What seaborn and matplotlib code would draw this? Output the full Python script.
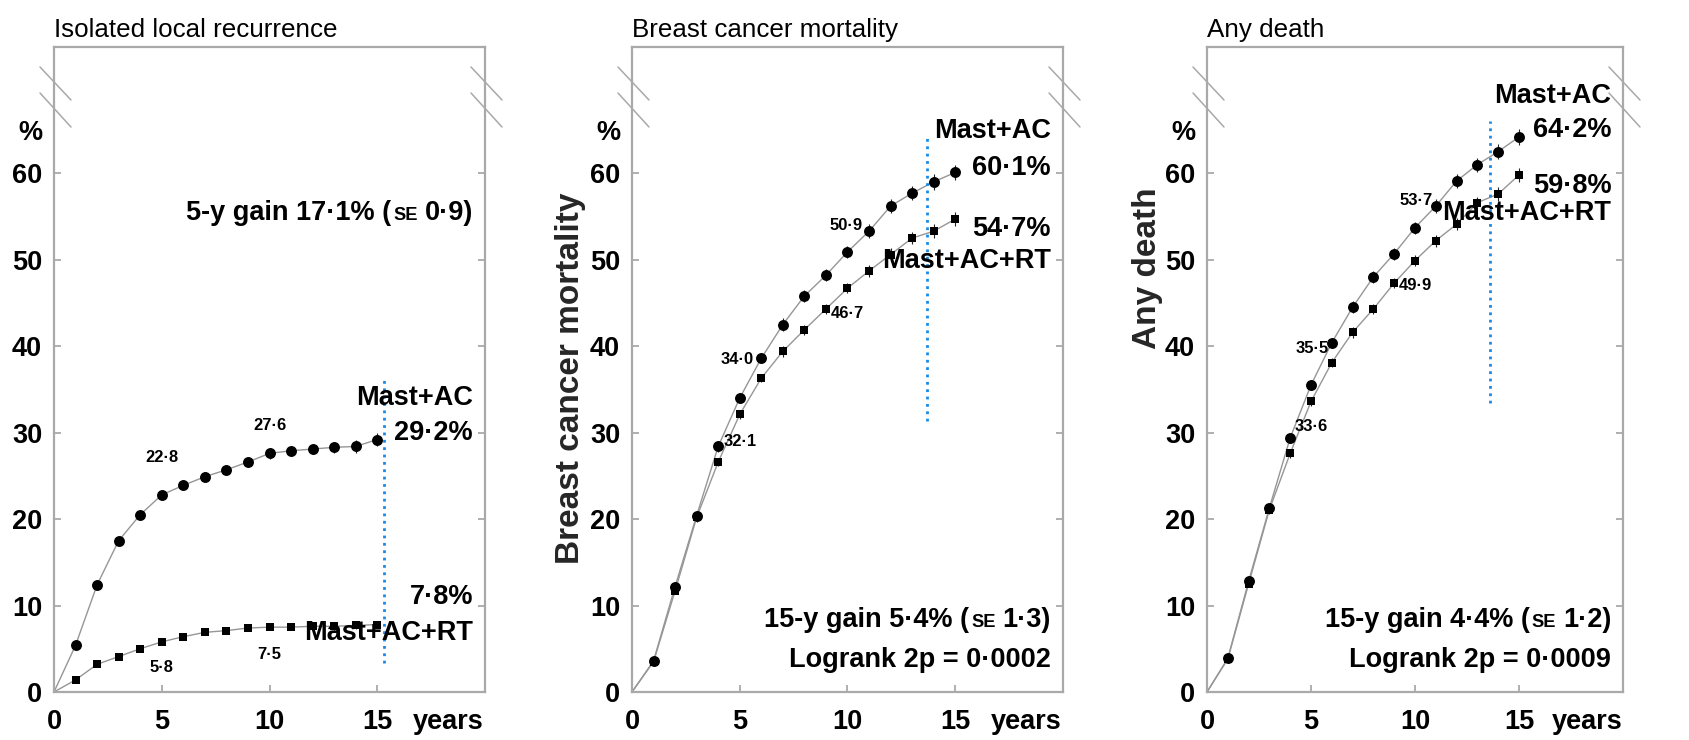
import matplotlib
matplotlib.use("Agg")
import matplotlib.pyplot as plt
import pandas as pd
import seaborn as sns
from matplotlib import font_manager as fm
from matplotlib.transforms import offset_copy

# ---------------------------------------------------------------- data
years = list(range(0, 16))

local_mast_ac = [0, 5.4, 12.4, 17.5, 20.5, 22.8, 23.9, 24.9, 25.7, 26.6, 27.6, 27.9, 28.1, 28.3, 28.4, 29.2]
local_mast_ac_rt = [0, 1.4, 3.2, 4.1, 5.0, 5.8, 6.4, 6.9, 7.1, 7.4, 7.5, 7.5, 7.6, 7.6, 7.7, 7.8]

bcm_mast_ac = [0, 3.6, 12.2, 20.4, 28.4, 34.0, 38.6, 42.5, 45.8, 48.2, 50.9, 53.3, 56.2, 57.7, 59.0, 60.1]
bcm_mast_ac_rt = [0, 3.5, 11.7, 20.2, 26.6, 32.1, 36.3, 39.4, 41.9, 44.3, 46.7, 48.7, 50.6, 52.5, 53.3, 54.7]

death_mast_ac = [0, 3.9, 12.8, 21.3, 29.4, 35.5, 40.4, 44.5, 48.0, 50.7, 53.7, 56.2, 59.1, 61.0, 62.5, 64.2]
death_mast_ac_rt = [0, 3.8, 12.5, 21.1, 27.6, 33.6, 38.1, 41.6, 44.3, 47.3, 49.9, 52.2, 54.1, 56.6, 57.6, 59.8]

# standard errors, years 1-15
local_se_ac = [0.2, 0.3, 0.4, 0.4, 0.4, 0.4, 0.5, 0.5, 0.5, 0.6, 0.6, 0.6, 0.6, 0.7, 0.8]
local_se_rt = [0.1, 0.2, 0.2, 0.2, 0.3, 0.3, 0.3, 0.3, 0.3, 0.3, 0.3, 0.3, 0.4, 0.4, 0.4]
bcm_se_ac = [0.3, 0.4, 0.5, 0.6, 0.6, 0.6, 0.7, 0.7, 0.7, 0.7, 0.8, 0.8, 0.8, 0.9, 0.9]
bcm_se_rt = [0.3, 0.4, 0.5, 0.5, 0.5, 0.5, 0.6, 0.6, 0.6, 0.6, 0.7, 0.7, 0.7, 0.8, 0.8]
death_se_ac = [0.3, 0.4, 0.5, 0.6, 0.6, 0.6, 0.7, 0.7, 0.7, 0.7, 0.8, 0.8, 0.8, 0.9, 0.9]
death_se_rt = [0.3, 0.4, 0.5, 0.5, 0.5, 0.5, 0.6, 0.6, 0.6, 0.6, 0.7, 0.7, 0.7, 0.8, 0.8]

titles = ["Isolated local recurrence", "Breast cancer mortality", "Any death"]
ylabels = [None, "Breast cancer mortality", "Any death"]
arm_names = ["Mast+AC", "Mast+AC+RT"]
x_ticks = [0, 5, 10, 15]
y_ticks = [0, 10, 20, 30, 40, 50, 60]
gain_texts = [("5-y gain 17·1% (", "SE", "0·9)"),
              ("15-y gain 5·4% (", "SE", "1·3)"),
              ("15-y gain 4·4% (", "SE", "1·2)")]
logrank_texts = [None, "Logrank 2p = 0·0002", "Logrank 2p = 0·0009"]

# ---------------------------------------------------------------- style
sns.set_theme(style="white")
names = {f.name for f in fm.fontManager.ttflist}
if "Liberation Sans Narrow" in names:
    NARROW, K = "Liberation Sans Narrow", 1.0
else:
    NARROW, K = "Liberation Sans", 0.85
WIDE = "Liberation Sans" if "Liberation Sans" in names else "DejaVu Sans"
plt.rcParams["font.family"] = [NARROW, "DejaVu Sans"]
plt.rcParams["font.weight"] = "bold"
plt.rcParams["text.color"] = "black"

SPINE = "#a9a9a9"
LINE = "#969696"
BLUE = "#1a8ae6"
TICK_FS = 23 * K
BIG_FS = 23 * K
SMALL_FS = 14 * K
SC_FS = 15.5 * K

fig = plt.figure(figsize=(16.89, 7.40), dpi=100)
renderer = fig.canvas.get_renderer()
FW, FH = 1689.0, 740.0

panel_px = [(54, 431), (632, 431), (1207, 416)]
AX_BOTTOM, AX_TOP = 692, 47

panels = [
    dict(ac=local_mast_ac, rt=local_mast_ac_rt, se_ac=local_se_ac, se_rt=local_se_rt,
         vline=(15.3, 3.4, 36.3),
         end_y=(34.0, 29.9, 11.0, 6.8),
         labels_ac=[(5, 5.0, 27.1), (10, 10.0, 30.8)],
         labels_rt=[(5, 5.0, 2.8), (10, 10.0, 4.3)],
         gain_y=54.6, logrank_y=None),
    dict(ac=bcm_mast_ac, rt=bcm_mast_ac_rt, se_ac=bcm_se_ac, se_rt=bcm_se_rt,
         vline=(13.7, 31.4, 64.4),
         end_y=(64.9, 60.6, 53.6, 49.8),
         labels_ac=[(5, 4.9, 38.4), (10, 9.95, 54.0)],
         labels_rt=[(5, 5.0, 29.0), (10, 10.0, 43.8)],
         gain_y=7.5, logrank_y=2.9),
    dict(ac=death_mast_ac, rt=death_mast_ac_rt, se_ac=death_se_ac, se_rt=death_se_rt,
         vline=(13.6, 33.4, 66.0),
         end_y=(68.9, 65.0, 58.5, 55.4),
         labels_ac=[(5, 5.05, 39.7), (10, 10.05, 56.9)],
         labels_rt=[(5, 5.0, 30.7), (10, 10.0, 47.0)],
         gain_y=7.5, logrank_y=2.9),
]


def fmt(v):
    return f"{v:.1f}".replace(".", "·")


def right_runs(ax, x, y, runs):
    """Right-aligned text made of runs with different sizes (baseline aligned)."""
    offset = 0.0
    for s, size, gap in reversed(runs):
        tr = offset_copy(ax.get_yaxis_transform(), fig=fig, x=-offset, y=0, units="dots")
        t = ax.text(x, y, s, ha="right", va="baseline", fontsize=size,
                    fontweight="bold", transform=tr)
        offset += t.get_window_extent(renderer).width + gap


for i, (p, (left, width)) in enumerate(zip(panels, panel_px)):
    ax = fig.add_axes([left / FW, 1 - AX_BOTTOM / FH, width / FW, (AX_BOTTOM - AX_TOP) / FH])

    for key, marker, size, se_key in (("ac", "o", 62, "se_ac"), ("rt", "s", 40, "se_rt")):
        df = pd.DataFrame({"year": years, "risk": p[key]})
        sns.lineplot(data=df, x="year", y="risk", ax=ax, color=LINE, lw=1.0,
                     estimator=None, sort=False, zorder=2)
        pts = df.iloc[1:]
        ax.errorbar(pts["year"], pts["risk"], yerr=p[se_key], fmt="none",
                    ecolor="#222222", elinewidth=0.8, capsize=0, zorder=3)
        sns.scatterplot(data=pts, x="year", y="risk", ax=ax, marker=marker, s=size,
                        color="black", edgecolor="black", linewidth=0, zorder=4)

    ax.set_xlim(0, 20)
    ax.set_ylim(0, 74.6)
    ax.set_xticks(x_ticks)
    ax.set_yticks(y_ticks)
    ax.set_xlabel("")
    ax.set_ylabel("")
    ax.grid(False)
    for sp in ax.spines.values():
        sp.set_color(SPINE)
        sp.set_linewidth(1.6)
    ax.tick_params(axis="both", direction="in", length=5, width=1.3, color=SPINE,
                   labelsize=TICK_FS, labelcolor="black")
    ax.tick_params(axis="y", left=True, right=True, pad=8.5)
    ax.tick_params(axis="x", bottom=True, top=False, pad=12.5)
    for lbl in ax.get_xticklabels() + ax.get_yticklabels():
        lbl.set_fontweight("bold")

    # axis break marks on both vertical spines
    w_ax = width
    for x0 in (0.0, 1.0):
        for ya, yb in ((67, 100), (93, 127)):
            ax.plot([x0 - 14 / w_ax, x0 + 17 / w_ax],
                    [(AX_BOTTOM - ya) / (AX_BOTTOM - AX_TOP), (AX_BOTTOM - yb) / (AX_BOTTOM - AX_TOP)],
                    transform=ax.transAxes, clip_on=False, color=SPINE, lw=1.1)

    ax.set_title(titles[i], loc="left", pad=7, fontsize=22 * K, fontweight="normal",
                 family=[NARROW, "DejaVu Sans"])
    if ylabels[i]:
        ax.set_ylabel(ylabels[i], fontsize=24, fontweight="bold", family=[WIDE],
                      va="center")
        ax.yaxis.set_label_coords(-0.142, 0.487 if i == 1 else 0.657)

    ax.annotate("%", xy=(0, 64.6), xycoords=("axes fraction", "data"), xytext=(-8.5, 0),
                textcoords="offset points", ha="right", va="center", fontsize=TICK_FS,
                fontweight="bold")
    ax.annotate("years", xy=(18.3, 0), xycoords=("data", "axes fraction"), xytext=(0, -12.5),
                textcoords="offset points", ha="center", va="top", fontsize=TICK_FS,
                fontweight="bold")

    # vertical dotted marker line
    vx, vy0, vy1 = p["vline"]
    ax.plot([vx, vx], [vy0, vy1], ls=":", color=BLUE, lw=2.0, zorder=5)

    # values at 5 and 10 years
    for key, lab_key in (("ac", "labels_ac"), ("rt", "labels_rt")):
        for yr, lx, ly in p[lab_key]:
            ax.text(lx, ly, fmt(p[key][yr]), ha="center", va="center",
                    fontsize=SMALL_FS, fontweight="bold", zorder=6)

    # end-of-curve labels
    ty = ax.get_yaxis_transform()
    y_name_ac, y_val_ac, y_val_rt, y_name_rt = p["end_y"]
    xr = 0.972
    ax.text(xr, y_name_ac, arm_names[0], transform=ty, ha="right", va="center",
            fontsize=BIG_FS, fontweight="bold", zorder=6)
    ax.text(xr, y_val_ac, fmt(p["ac"][-1]) + "%", transform=ty, ha="right", va="center",
            fontsize=BIG_FS, fontweight="bold", zorder=6)
    ax.text(xr, y_val_rt, fmt(p["rt"][-1]) + "%", transform=ty, ha="right", va="center",
            fontsize=BIG_FS, fontweight="bold", zorder=6)
    ax.text(xr, y_name_rt, arm_names[1], transform=ty, ha="right", va="center",
            fontsize=BIG_FS, fontweight="bold", zorder=6)

    # gain / logrank statistics
    a, se, b = gain_texts[i]
    right_runs(ax, xr, p["gain_y"], [(a, BIG_FS, 0), (se, SC_FS, 2), (b, BIG_FS, 7)])
    if logrank_texts[i]:
        ax.text(xr, p["logrank_y"], logrank_texts[i], transform=ty, ha="right",
                va="baseline", fontsize=BIG_FS, fontweight="bold")

fig.savefig("out.png", dpi=100)
